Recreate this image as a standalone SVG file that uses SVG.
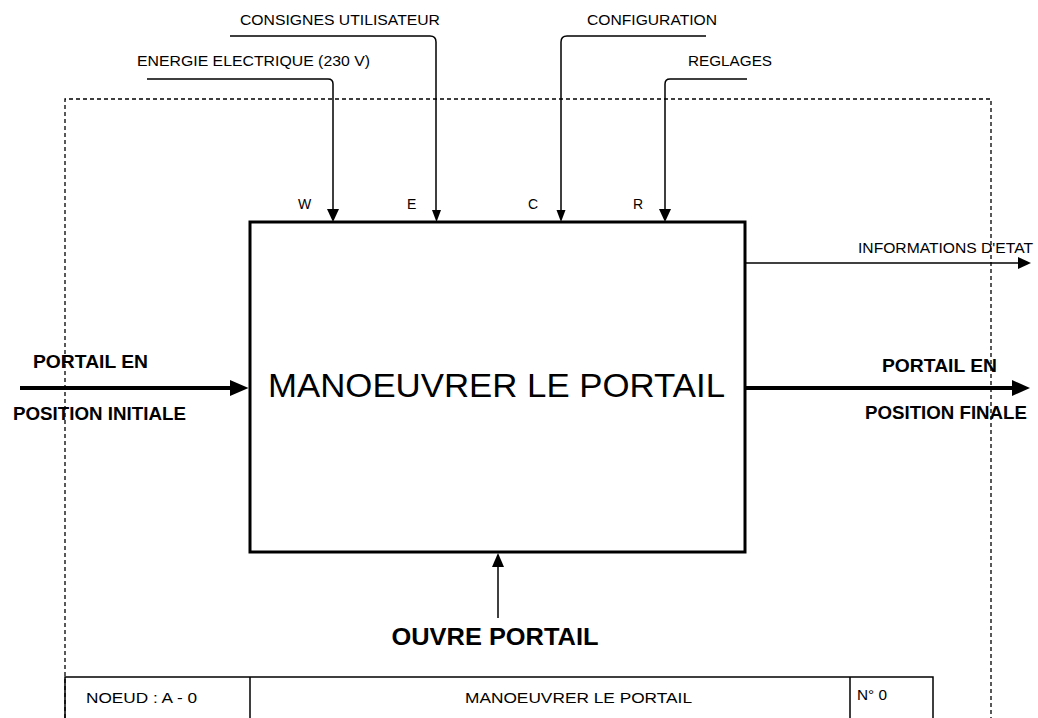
<svg xmlns="http://www.w3.org/2000/svg" width="1038" height="718" viewBox="0 0 1038 718">
<style>
.lbl{font-family:"Liberation Sans",Arial,sans-serif;font-size:14px;fill:#000}
.big{font-family:"Liberation Sans",Arial,sans-serif;font-weight:bold;font-size:18px;fill:#000}
.thin{fill:none;stroke:#000;stroke-width:1.5}
.thick{fill:none;stroke:#000;stroke-width:4}
.head{fill:#000}
</style>
<rect width="1038" height="718" fill="#fff"/>
<g id="frame">
<path d="M65,718 V99 H991 V718" fill="none" stroke="#000" stroke-width="1.3" stroke-dasharray="4,3"/>
</g>
<g id="connectors">
<path class="thin" d="M147,79 H328 Q333,79 333,84 V212"/>
<polygon class="head" points="327,209 339,209 333,222"/>
<path class="thin" d="M230,36 H430 Q436,36 436,42 V212"/>
<polygon class="head" points="432,210 441,210 436.5,222"/>
<path class="thin" d="M706,36 H567 Q561,36 561,42 V212"/>
<polygon class="head" points="556.5,210 565.5,210 561,222"/>
<path class="thin" d="M747,79 H670 Q665,79 665,84 V212"/>
<polygon class="head" points="659,209 671,209 665,222"/>
<path class="thin" d="M745,263 H1020"/>
<polygon class="head" points="1018,257 1031,263 1018,269"/>
<path class="thick" d="M20,388 H232"/>
<polygon class="head" points="230,380 248.5,388 230,396"/>
<path class="thick" d="M745,388 H1014"/>
<polygon class="head" points="1012,380 1030,388 1012,396"/>
<path class="thin" d="M498,618 V562"/>
<polygon class="head" points="492,567 504,567 498,553"/>
</g>
<g id="node-main">
<rect x="250" y="222" width="495" height="330" fill="none" stroke="#000" stroke-width="3"/>
<text x="496.5" y="397" text-anchor="middle" font-family="Liberation Sans,Arial,sans-serif" font-size="34" textLength="457" lengthAdjust="spacingAndGlyphs">MANOEUVRER LE PORTAIL</text>
</g>
<g id="labels">
<text class="lbl" x="137" y="66" textLength="233" lengthAdjust="spacingAndGlyphs">ENERGIE ELECTRIQUE (230 V)</text>
<text class="lbl" x="240" y="25" textLength="200" lengthAdjust="spacingAndGlyphs">CONSIGNES UTILISATEUR</text>
<text class="lbl" x="587" y="25" textLength="130" lengthAdjust="spacingAndGlyphs">CONFIGURATION</text>
<text class="lbl" x="688" y="66" textLength="84" lengthAdjust="spacingAndGlyphs">REGLAGES</text>
<text class="lbl" x="858" y="253" textLength="175" lengthAdjust="spacingAndGlyphs">INFORMATIONS D'ETAT</text>
<text class="lbl" x="298" y="209">W</text>
<text class="lbl" x="407" y="209">E</text>
<text class="lbl" x="528" y="209">C</text>
<text class="lbl" x="633" y="209">R</text>
<text class="big" x="33" y="368" textLength="115" lengthAdjust="spacingAndGlyphs">PORTAIL EN</text>
<text class="big" x="13" y="420" textLength="173" lengthAdjust="spacingAndGlyphs">POSITION INITIALE</text>
<text class="big" x="882" y="372" textLength="115" lengthAdjust="spacingAndGlyphs">PORTAIL EN</text>
<text class="big" x="865" y="419" textLength="162" lengthAdjust="spacingAndGlyphs">POSITION FINALE</text>
<text x="495" y="645" text-anchor="middle" font-family="Liberation Sans,Arial,sans-serif" font-weight="bold" font-size="24" textLength="207" lengthAdjust="spacingAndGlyphs">OUVRE PORTAIL</text>
</g>
<g id="title-block">
<path d="M65,718 V677 H933 V718 M250,677 V718 M850,677 V718" fill="none" stroke="#000" stroke-width="1.5"/>
<text class="lbl" x="86" y="703" textLength="111" lengthAdjust="spacingAndGlyphs">NOEUD : A - 0</text>
<text class="lbl" x="465" y="703" textLength="227" lengthAdjust="spacingAndGlyphs">MANOEUVRER LE PORTAIL</text>
<text class="lbl" x="857" y="700" textLength="30" lengthAdjust="spacingAndGlyphs">N° 0</text>
</g>
</svg>
